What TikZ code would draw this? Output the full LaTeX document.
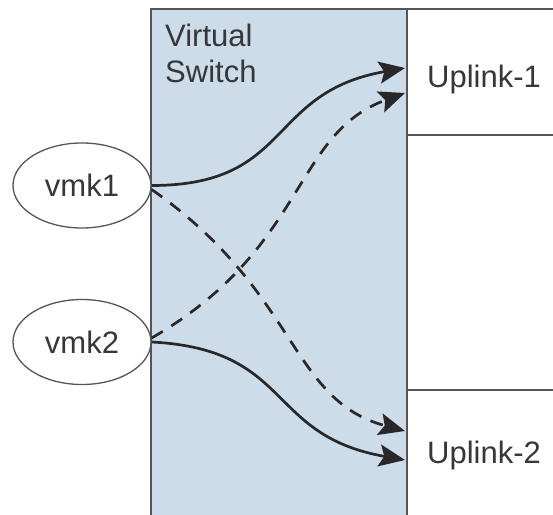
\documentclass[tikz,border=0pt]{standalone}
\usepackage{fontspec}
\setmainfont{Liberation Sans}
\usetikzlibrary{arrows.meta,shapes.geometric}
\definecolor{swfill}{RGB}{205,220,233}
\definecolor{edge}{RGB}{85,85,85}
\definecolor{ink}{RGB}{40,40,40}
\definecolor{txt}{RGB}{55,55,55}
\begin{document}
\begin{tikzpicture}[x=1pt,y=1pt,
  lbl/.style={font=\fontsize{31}{36}\selectfont, text=txt, inner sep=0pt},
  boxline/.style={draw=edge, line width=1.6pt},
  vmk/.style={draw=edge, line width=1.3pt, ellipse, minimum width=138pt, minimum height=85pt, inner sep=0pt, fill=white, font=\fontsize{31}{36}\selectfont, text=txt},
  link/.style={draw=ink, line width=2.7pt, looseness=1.3, -{Stealth[length=26pt,width=22pt,inset=5pt]}},
  dashlink/.style={link, dash pattern=on 13pt off 10pt}]
\useasboundingbox (0,0) rectangle (553,514);
\fill[white] (0,0) rectangle (553,514);
% boxes
\draw[boxline, fill=swfill] (151,-5) rectangle (407,505);
\draw[boxline, fill=white] (407,379) rectangle (570,505);
\draw[boxline, fill=white] (407,-5) rectangle (570,124);
% labels
\node[lbl, anchor=base west] (sw1) at (165,467) {Virtual};
\node[lbl, anchor=base west] (sw2) at (165,431) {Switch};
\node[lbl, anchor=base west] (up1) at (427,426) {Uplink-1};
\node[lbl, anchor=base west] (up2) at (427,51) {Uplink-2};
% interfaces
\node[vmk] (vmk1) at (82,328.5) {vmk1};
\node[vmk] (vmk2) at (82,172) {vmk2};
% arrow tips
\coordinate (t1s) at (405,446);
\coordinate (t1d) at (405,421);
\coordinate (t2d) at (405,83);
\coordinate (t2s) at (405,54);
% connectors
\draw[link] (vmk1.east) to[out=0,in=190] (t1s);
\draw[dashlink] ([yshift=-4pt]vmk1.east) .. controls +(-35:180) and +(165:120) .. (t2d);
\draw[dashlink] ([yshift=4pt]vmk2.east) .. controls +(30:180) and +(200:120) .. (t1d);
\draw[link] (vmk2.east) to[out=-3,in=170] (t2s);
\end{tikzpicture}
\end{document}
